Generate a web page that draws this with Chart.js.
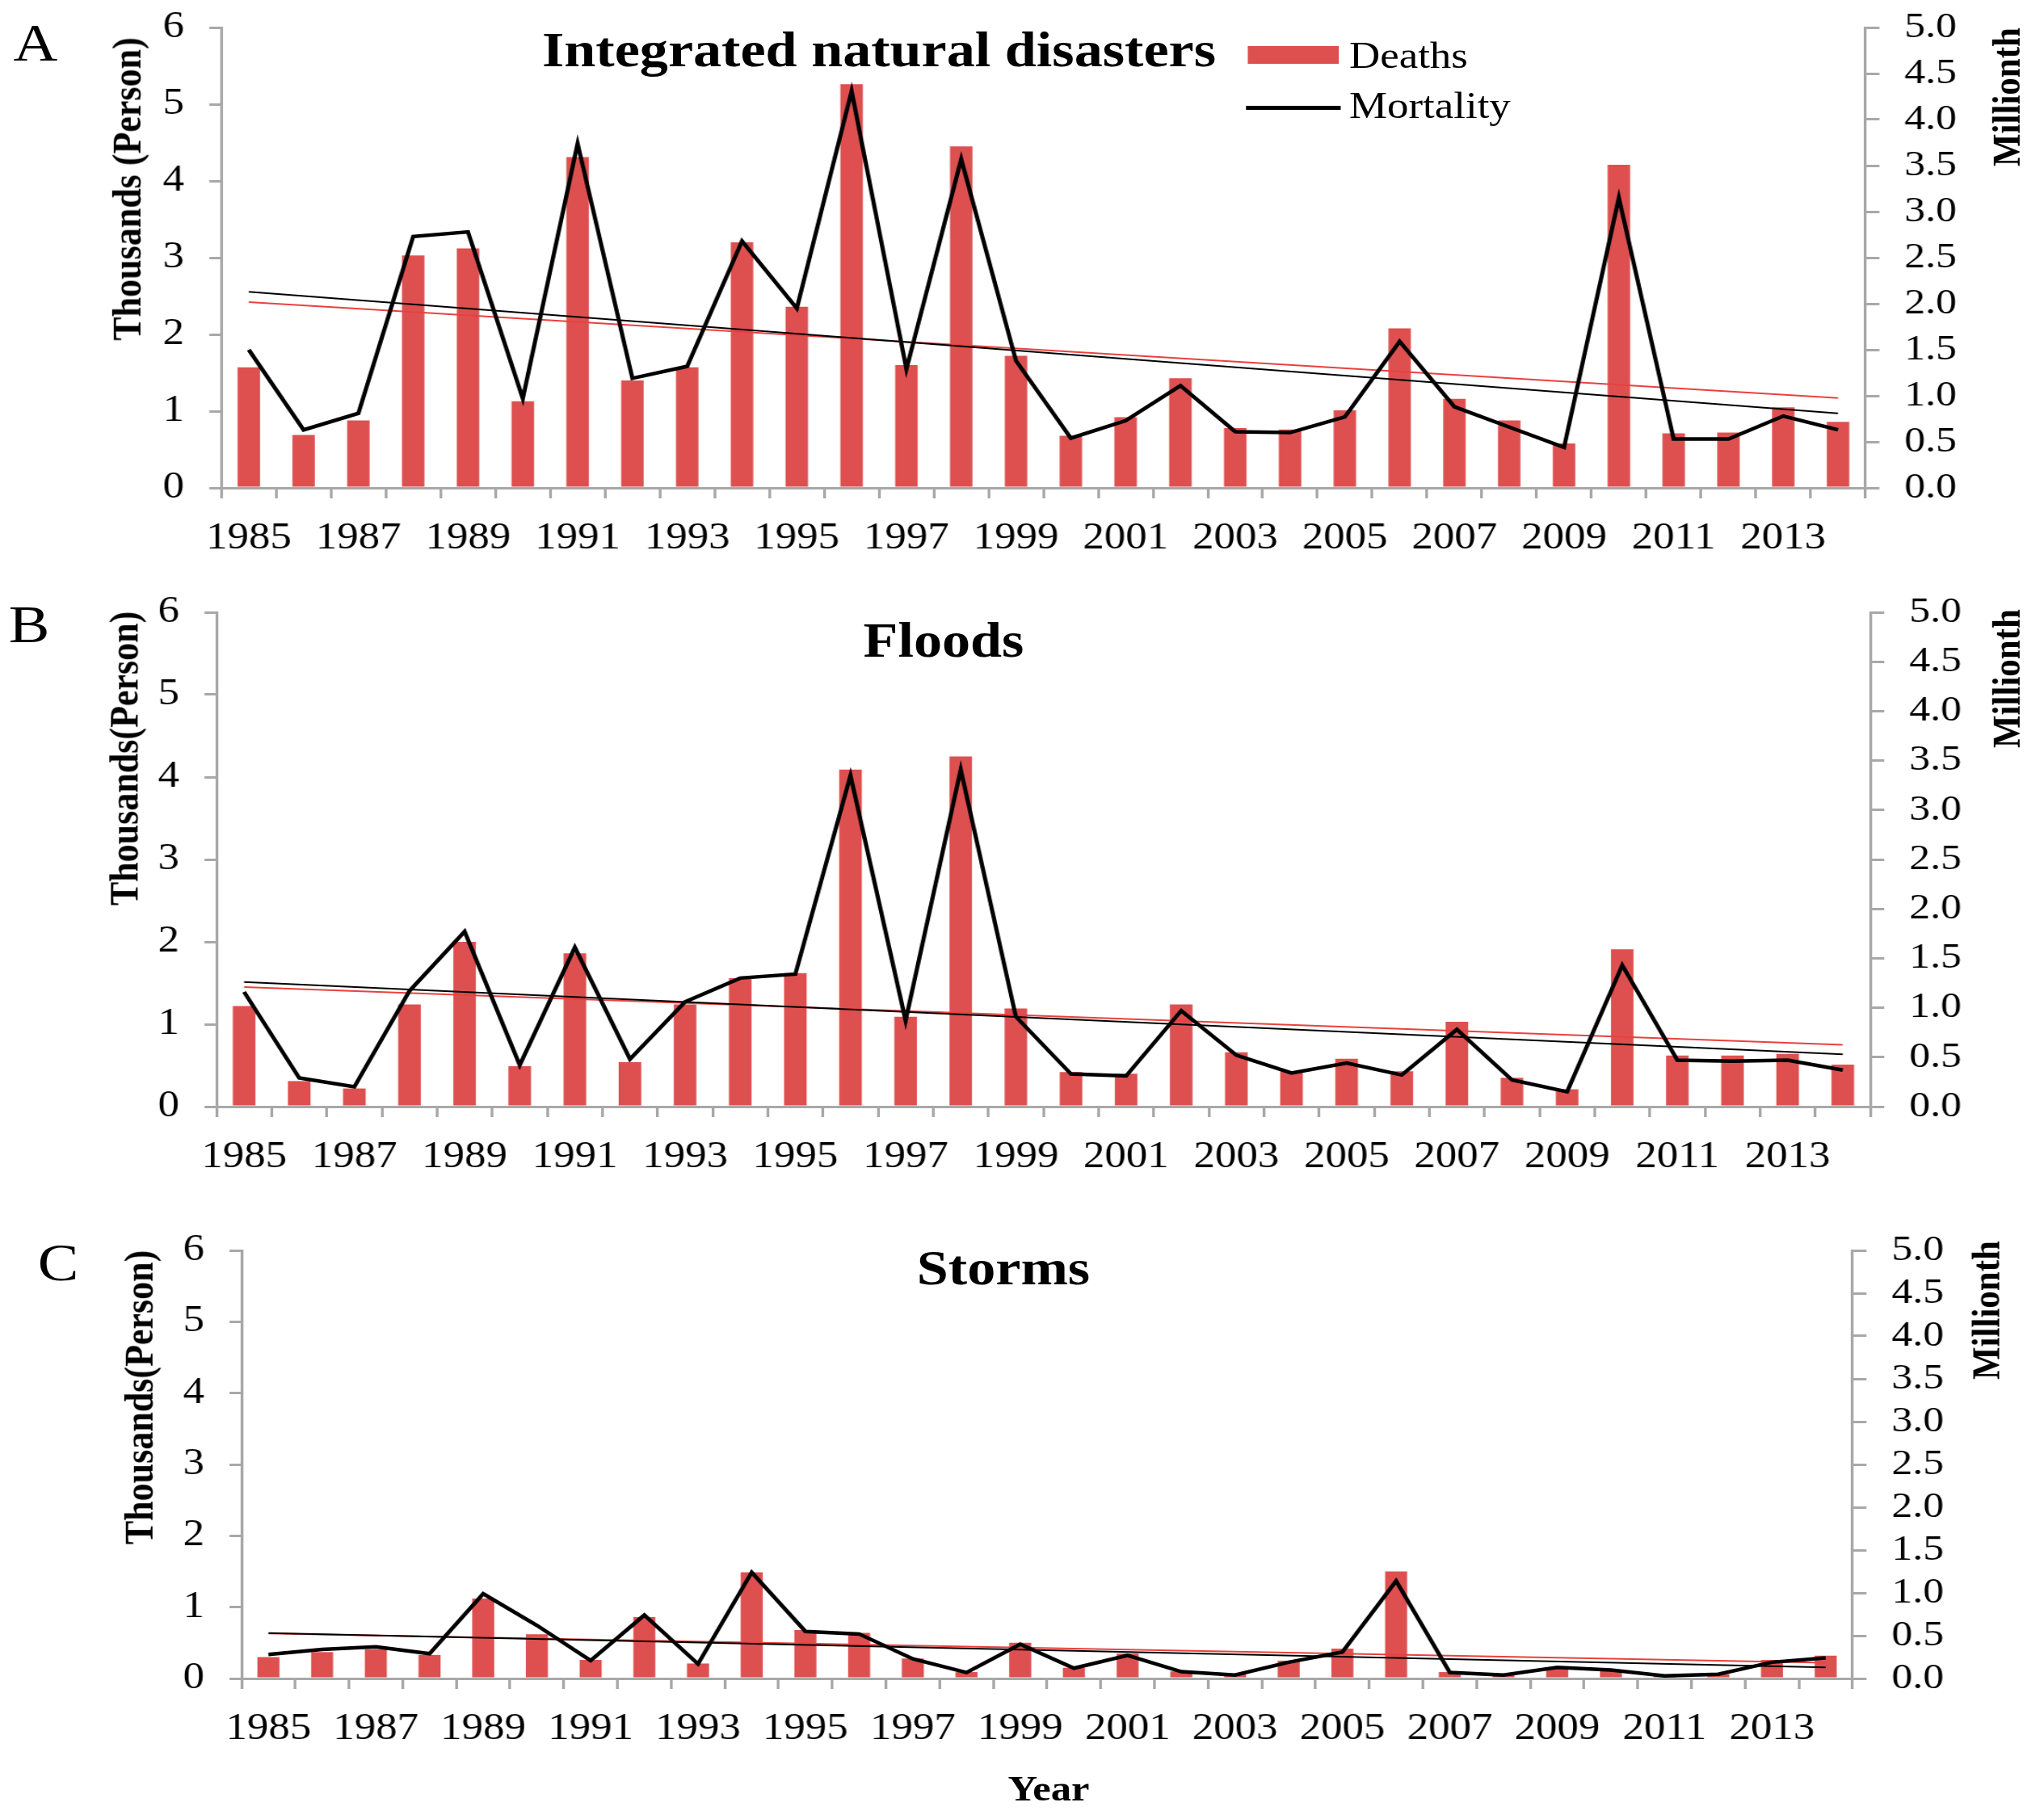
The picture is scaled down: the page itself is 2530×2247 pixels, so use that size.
<!DOCTYPE html>
<html>
<head>
<meta charset="utf-8">
<script src="https://cdn.jsdelivr.net/npm/chart.js@4.4.1/dist/chart.umd.min.js"></script>
<style>
  html, body { margin: 0; padding: 0; background: #ffffff; overflow: hidden; }
  #wrap { position: absolute; left: 0; top: 0; width: 2200px; height: 2247px; transform: scaleX(1.15); transform-origin: 0 0; }
  #wrap canvas { position: absolute; left: 0; }
  .t { position: absolute; white-space: nowrap; line-height: 1; color: #000; font-family: 'Liberation Serif', 'Times New Roman', serif; }
</style>
</head>
<body>
<div id="wrap">
  <canvas id="cA"></canvas>
  <canvas id="cB"></canvas>
  <canvas id="cC"></canvas>
</div>
<script>
// ---------------- DATA ----------------
const years = ['1985','1986','1987','1988','1989','1990','1991','1992','1993','1994',
               '1995','1996','1997','1998','1999','2000','2001','2002','2003','2004',
               '2005','2006','2007','2008','2009','2010','2011','2012','2013','2014'];

// Panel A: Integrated natural disasters (deaths in thousands, mortality in millionth)
const deathsA = [1.57,0.69,0.88,3.03,3.12,1.13,4.31,1.40,1.57,3.20,2.36,5.26,1.60,4.45,1.72,
                 0.68,0.92,1.43,0.78,0.76,1.01,2.08,1.16,0.88,0.58,4.21,0.71,0.72,1.05,0.86];
const mortalityA = [1.50,0.63,0.81,2.73,2.78,0.97,3.74,1.19,1.32,2.68,1.95,4.31,1.29,3.57,1.38,
                    0.54,0.73,1.11,0.61,0.60,0.77,1.59,0.88,0.66,0.44,3.15,0.53,0.53,0.78,0.63];
const trendDeathsA = [2.42, 1.17];      // 1985, 2014
const trendMortalityA = [2.13, 0.81];   // 1985, 2014

// Panel B: Floods
const deathsB = [1.22,0.31,0.22,1.24,2.00,0.49,1.86,0.54,1.24,1.56,1.62,4.09,1.09,4.25,1.19,
                 0.42,0.40,1.24,0.66,0.43,0.58,0.43,1.03,0.35,0.21,1.91,0.62,0.62,0.64,0.51];
const mortalityB = [1.16,0.29,0.20,1.17,1.77,0.42,1.61,0.48,1.06,1.30,1.34,3.35,0.87,3.41,0.91,
                    0.33,0.31,0.97,0.52,0.34,0.44,0.32,0.78,0.27,0.15,1.43,0.47,0.46,0.47,0.37];
const trendDeathsB = [1.45, 0.75];
const trendMortalityB = [1.26, 0.53];

// Panel C: Storms
const deathsC = [0.30,0.37,0.41,0.33,1.12,0.62,0.26,0.86,0.21,1.49,0.68,0.64,0.28,0.09,0.50,
                 0.15,0.35,0.10,0.06,0.25,0.42,1.50,0.09,0.06,0.14,0.12,0.04,0.06,0.26,0.32];
const mortalityC = [0.28,0.34,0.37,0.29,0.99,0.62,0.21,0.74,0.17,1.24,0.55,0.52,0.23,0.07,0.40,
                    0.12,0.27,0.08,0.04,0.19,0.31,1.14,0.07,0.04,0.13,0.10,0.03,0.05,0.19,0.24];
const trendDeathsC = [0.63, 0.22];
const trendMortalityC = [0.53, 0.13];

const leftTicks = [0, 1, 2, 3, 4, 5, 6];
const rightTicks = ['0.0','0.5','1.0','1.5','2.0','2.5','3.0','3.5','4.0','4.5','5.0'];

// ---------------- LAYOUT / STYLE ----------------
const S = 1.15;                 // horizontal stretch of the reference picture
const W = 2200;                 // logical width (2530 / S)
const FONT = "'Liberation Serif', 'Times New Roman', serif";
const GRAY = '#A8A8A8';
const RED = '#DE5050';
const TREND_RED = '#E8413F';

const panels = [
  { id: 'cA', top: -40,  height: 760, plotTop: 34,   plotBottom: 604,  left: 274, right: 2309,
    deaths: deathsA, mort: mortalityA, trendD: trendDeathsA, trendM: trendMortalityA },
  { id: 'cB', top: 690,  height: 810, plotTop: 758,  plotBottom: 1370, left: 268, right: 2315,
    deaths: deathsB, mort: mortalityB, trendD: trendDeathsB, trendM: trendMortalityB },
  { id: 'cC', top: 1470, height: 777, plotTop: 1548, plotBottom: 2078, left: 299, right: 2293,
    deaths: deathsC, mort: mortalityC, trendD: trendDeathsC, trendM: trendMortalityC }
];

function endpoints(pair) {
  return years.map((_, i) => i === 0 ? pair[0] : (i === years.length - 1 ? pair[1] : null));
}

panels.forEach(p => {
  const cv = document.getElementById(p.id);
  cv.width = W; cv.height = p.height;
  cv.style.width = W + 'px'; cv.style.height = p.height + 'px';
  cv.style.top = p.top + 'px';
  const leftW = p.left / S;
  const rightW = W - p.right / S;
  const xH = (p.top + p.height) - p.plotBottom;
  new Chart(cv.getContext('2d'), {
    type: 'bar',
    data: {
      labels: years,
      datasets: [
        { type: 'line', label: 'Mortality', data: p.mort, yAxisID: 'y1', borderColor: '#000000',
          borderWidth: 4.5, pointRadius: 0, tension: 0, fill: false, order: 1, borderJoinStyle: 'miter' },
        { type: 'line', label: 'Mortality trend', data: endpoints(p.trendM), yAxisID: 'y1', borderColor: '#000000',
          borderWidth: 2, pointRadius: 0, spanGaps: true, fill: false, order: 2 },
        { type: 'line', label: 'Deaths trend', data: endpoints(p.trendD), yAxisID: 'y', borderColor: TREND_RED,
          borderWidth: 2, pointRadius: 0, spanGaps: true, fill: false, order: 2 },
        { type: 'bar', label: 'Deaths', data: p.deaths, yAxisID: 'y', backgroundColor: RED,
          borderWidth: 0, barPercentage: 0.41, categoryPercentage: 1, order: 3 }
      ]
    },
    options: {
      responsive: false, animation: false, devicePixelRatio: 1,
      layout: { padding: { top: p.plotTop - p.top, left: 0, right: 0, bottom: 0 } },
      plugins: { legend: { display: false }, tooltip: { enabled: false }, title: { display: false } },
      scales: {
        x: {
          type: 'category', offset: true,
          grid: { offset: true, drawOnChartArea: false, drawTicks: true, tickLength: 13, color: GRAY, lineWidth: 3 },
          border: { color: GRAY, width: 3 },
          ticks: { autoSkip: false, maxRotation: 0, minRotation: 0, padding: 22, color: '#000',
                   font: { family: FONT, size: 46 },
                   callback: (v, i) => (i % 2 === 0 ? years[i] : '') },
          afterFit: s => { s.height = xH; }
        },
        y: {
          position: 'left', min: 0, max: 6,
          grid: { drawOnChartArea: false, drawTicks: true, tickLength: 13, color: GRAY, lineWidth: 3 },
          border: { color: GRAY, width: 3 },
          ticks: { autoSkip: false, stepSize: 1, padding: 27, color: '#000', font: { family: FONT, size: 46 },
                   callback: (v) => { const i = leftTicks.indexOf(v); return i >= 0 ? String(leftTicks[i]) : ''; } },
          afterFit: s => { s.width = leftW; }
        },
        y1: {
          position: 'right', min: 0, max: 5,
          grid: { drawOnChartArea: false, drawTicks: true, tickLength: 15, color: GRAY, lineWidth: 3 },
          border: { color: GRAY, width: 3 },
          ticks: { autoSkip: false, stepSize: 0.5, padding: 27, color: '#000', font: { family: FONT, size: 45 },
                   callback: (v) => rightTicks[Math.round(v * 2)] },
          afterFit: s => { s.width = rightW; }
        }
      }
    }
  });
});

// ---------------- TEXT ----------------
const wrap = document.getElementById('wrap');
function addText(txt, x, y, size, opts) {
  opts = opts || {};
  const d = document.createElement('div');
  d.className = 't';
  d.textContent = txt;
  d.style.left = (x / S) + 'px';
  d.style.top = y + 'px';
  d.style.fontSize = size + 'px';
  if (opts.bold) d.style.fontWeight = 'bold';
  let tr = opts.leftAlign ? 'translate(0,-50%)' : 'translate(-50%,-50%)';
  if (opts.rot) tr += ' rotate(-90deg)';
  d.style.transform = tr;
  wrap.appendChild(d);
  return d;
}
// panel letters
addText('A', 44, 53, 66);
addText('B', 36, 773, 66);
addText('C', 72, 1563, 66);
// panel titles
addText('Integrated natural disasters', 1088, 61, 61, { bold: true });
addText('Floods', 1168, 792, 61, { bold: true });
addText('Storms', 1242, 1569, 61, { bold: true });
// axis titles
addText('Thousands (Person)', 157, 234, 44, { bold: true, rot: true });
addText('Thousands(Person)', 154, 939, 44, { bold: true, rot: true });
addText('Thousands(Person)', 172, 1730, 44, { bold: true, rot: true });
addText('Millionth', 2483, 120, 43, { bold: true, rot: true });
addText('Millionth', 2483, 840, 43, { bold: true, rot: true });
addText('Millionth', 2458, 1622, 43, { bold: true, rot: true });
addText('Year', 1298, 2215, 44, { bold: true });

// legend (panel A)
const box = document.createElement('div');
box.style.cssText = 'position:absolute;background:' + RED + ';left:' + (1545 / S) + 'px;top:57px;width:' + (112 / S) + 'px;height:22px;';
wrap.appendChild(box);
const ln = document.createElement('div');
ln.style.cssText = 'position:absolute;background:#000;left:' + (1542 / S) + 'px;top:131px;width:' + (118 / S) + 'px;height:5px;';
wrap.appendChild(ln);
addText('Deaths', 1670, 69, 46, { leftAlign: true });
addText('Mortality', 1670, 131, 46, { leftAlign: true });
</script>
</body>
</html>
